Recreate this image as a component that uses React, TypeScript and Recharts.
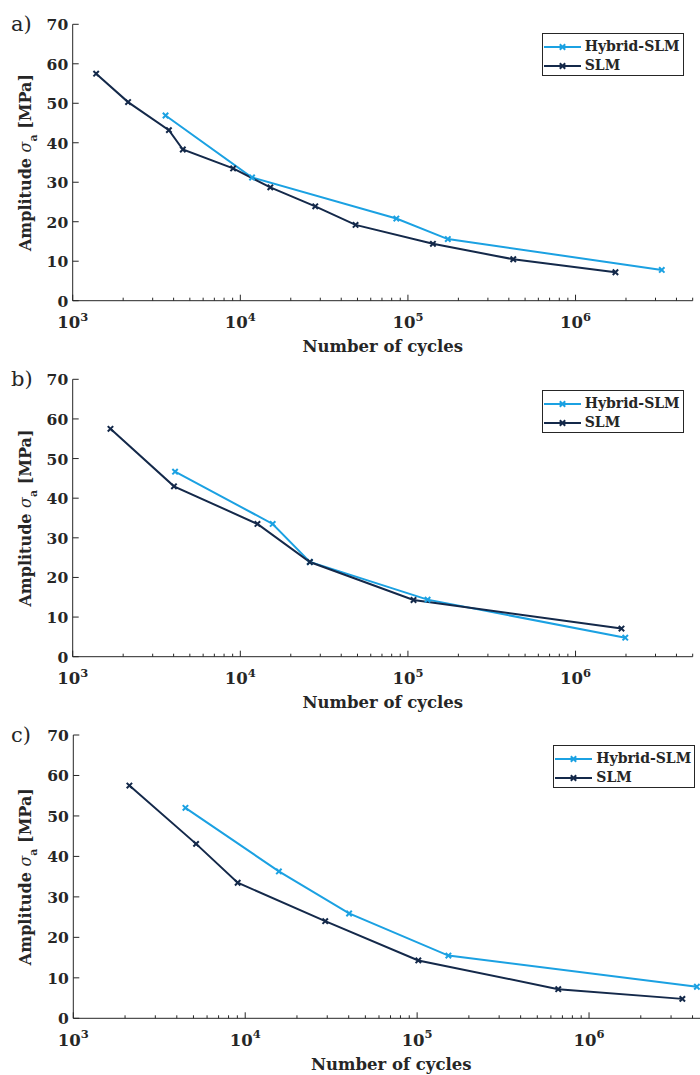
import { Legend, Line, LineChart, XAxis, YAxis } from "recharts";

const HYBRID = "#1ba1e2";
const SLM = "#14294a";
const AXIS = "#262626";
const FONT = "'DejaVu Serif', serif";

// panel a
const hybridA_N = [3580, 11750, 85300, 173000, 3270000];
const hybridA_S = [46.9, 31.2, 20.8, 15.6, 7.8];
const slmA_N = [1380, 2140, 3750, 4540, 9060, 15100, 28000, 48700, 141000, 425000, 1730000];
const slmA_S = [57.5, 50.3, 43.2, 38.3, 33.5, 28.7, 23.9, 19.2, 14.4, 10.5, 7.2];

// panel b
const hybridB_N = [4080, 15600, 26000, 131000, 1980000];
const hybridB_S = [46.7, 33.5, 23.9, 14.4, 4.8];
const slmB_N = [1680, 4020, 12650, 26000, 108000, 1880000];
const slmB_S = [57.5, 43.0, 33.5, 23.9, 14.3, 7.1];

// panel c
const hybridC_N = [4490, 15700, 40200, 152000, 4240000];
const hybridC_S = [52.0, 36.3, 25.9, 15.5, 7.8];
const slmC_N = [2120, 5180, 9040, 29200, 101600, 662000, 3490000];
const slmC_S = [57.5, 43.1, 33.5, 24.0, 14.3, 7.2, 4.8];

const X_DOMAIN = [1000, 5000000];
const DECADES = [1000, 10000, 100000, 1000000];
const Y_TICKS = [0, 10, 20, 30, 40, 50, 60, 70];

const X_TICKS = DECADES.flatMap((d) => [1, 2, 3, 4, 5, 6, 7, 8, 9].map((m) => d * m)).filter(
  (v) => v <= X_DOMAIN[1]
);

const pts = (n: number[], s: number[]) => n.map((x, i) => ({ x, y: s[i] }));

const isDecade = (v: number) => {
  const e = Math.log10(v);
  return Math.abs(e - Math.round(e)) < 1e-6;
};

function BottomTick({ x, y, payload }: any) {
  const major = isDecade(payload.value);
  return (
    <g>
      <line x1={x} x2={x} y1={y} y2={y - (major ? 6 : 3)} stroke={AXIS} />
      {major && (
        <text x={x} y={y + 27.5} textAnchor="middle" fontFamily={FONT} fontWeight="bold" fontSize={16.5} fill={AXIS}>
          10
          <tspan dy={-7.5} fontSize={11.5}>
            {Math.round(Math.log10(payload.value))}
          </tspan>
        </text>
      )}
    </g>
  );
}

function TopTick({ x, y, payload }: any) {
  const major = isDecade(payload.value);
  return <line x1={x} x2={x} y1={y} y2={y + (major ? 6 : 3)} stroke={AXIS} />;
}

function LeftTick({ x, y, payload }: any) {
  return (
    <g>
      <line x1={x} x2={x + 6} y1={y} y2={y} stroke={AXIS} />
      <text x={x - 4.5} y={y + 6} textAnchor="end" fontFamily={FONT} fontWeight="bold" fontSize={15.5} fill={AXIS}>
        {payload.value}
      </text>
    </g>
  );
}

function RightTick({ x, y }: any) {
  return <line x1={x} x2={x - 6} y1={y} y2={y} stroke={AXIS} />;
}

function CrossDot({ cx, cy, stroke }: any) {
  if (cx == null || cy == null) return null;
  const r = 2.7;
  return (
    <path
      d={`M${cx - r},${cy - r}L${cx + r},${cy + r}M${cx - r},${cy + r}L${cx + r},${cy - r}`}
      stroke={stroke}
      strokeWidth={2}
      fill="none"
    />
  );
}

function YTitle({ viewBox }: any) {
  const cx = 31;
  const cy = viewBox.y + viewBox.height / 2;
  return (
    <text
      x={cx}
      y={cy}
      transform={`rotate(-90, ${cx}, ${cy})`}
      textAnchor="middle"
      fontFamily={FONT}
      fontWeight="bold"
      fontSize={16}
      fill={AXIS}
    >
      Amplitude{" "}
      <tspan fontStyle="italic" fontWeight="normal">
        σ
      </tspan>
      <tspan dy={6} fontSize={11}>
        a
      </tspan>
      <tspan dy={-6}>{"  "}[MPa]</tspan>
    </text>
  );
}

function XTitle({ viewBox }: any) {
  return (
    <text
      x={viewBox.x + viewBox.width / 2}
      y={viewBox.y + 51.5}
      textAnchor="middle"
      fontFamily={FONT}
      fontWeight="bold"
      fontSize={16.5}
      fill={AXIS}
    >
      Number of cycles
    </text>
  );
}

function LegendBox({ payload }: any) {
  return (
    <div
      style={{
        width: "100%",
        height: "100%",
        boxSizing: "border-box",
        border: `1px solid ${AXIS}`,
        background: "#fff",
        padding: "3px 0 0 1px",
      }}
    >
      {(payload || []).map((e: any) => (
        <div key={e.value} style={{ display: "flex", alignItems: "center", height: 19 }}>
          <svg width={38} height={10} style={{ flex: "none" }}>
            <line x1={0} x2={37} y1={5} y2={5} stroke={e.color} strokeWidth={2} />
            <CrossDot cx={18.5} cy={5} stroke={e.color} />
          </svg>
          <span
            style={{
              marginLeft: 3,
              fontFamily: FONT,
              fontWeight: "bold",
              fontSize: 14,
              color: AXIS,
              lineHeight: "19px",
            }}
          >
            {e.value}
          </span>
        </div>
      ))}
    </div>
  );
}

function Panel({
  label,
  top,
  width,
  height,
  marginTop,
  marginRight,
  plotLeft,
  axisHeight,
  hybrid,
  slm,
  legendPos,
}: {
  label: string;
  top: number;
  width: number;
  height: number;
  marginTop: number;
  marginRight: number;
  plotLeft: number;
  axisHeight: number;
  hybrid: { x: number; y: number }[];
  slm: { x: number; y: number }[];
  legendPos: { left: number; top: number };
}) {
  return (
    <div style={{ position: "absolute", left: 0, top, width, height }}>
      <LineChart width={width} height={height} margin={{ top: marginTop, right: marginRight, bottom: 0, left: 0 }}>
        <XAxis
          dataKey="x"
          type="number"
          scale="log"
          domain={X_DOMAIN}
          allowDataOverflow
          ticks={X_TICKS}
          interval={0}
          tick={<BottomTick />}
          tickLine={false}
          tickSize={0}
          tickMargin={0}
          height={axisHeight}
          axisLine={{ stroke: AXIS }}
          label={<XTitle />}
        />
        <XAxis
          xAxisId="top"
          orientation="top"
          dataKey="x"
          type="number"
          scale="log"
          domain={X_DOMAIN}
          allowDataOverflow
          ticks={X_TICKS}
          interval={0}
          tick={<TopTick />}
          tickLine={false}
          tickSize={0}
          tickMargin={0}
          height={0}
          axisLine={{ stroke: AXIS }}
        />
        <YAxis
          type="number"
          domain={[0, 70]}
          ticks={Y_TICKS}
          interval={0}
          allowDataOverflow
          width={plotLeft}
          tick={<LeftTick />}
          tickLine={false}
          tickSize={0}
          tickMargin={0}
          axisLine={{ stroke: AXIS }}
          label={<YTitle />}
        />
        <YAxis
          yAxisId="right"
          orientation="right"
          type="number"
          domain={[0, 70]}
          ticks={Y_TICKS}
          interval={0}
          allowDataOverflow
          width={0}
          tick={<RightTick />}
          tickLine={false}
          tickSize={0}
          tickMargin={0}
          axisLine={{ stroke: AXIS }}
        />
        <Legend
          layout="vertical"
          align="center"
          verticalAlign="middle"
          content={<LegendBox />}
          wrapperStyle={{ left: legendPos.left, top: legendPos.top, width: 142, height: 43 }}
        />
        <Line
          data={hybrid}
          dataKey="y"
          name="Hybrid-SLM"
          stroke={HYBRID}
          strokeWidth={2}
          dot={<CrossDot />}
          isAnimationActive={false}
        />
        <Line
          data={slm}
          dataKey="y"
          name="SLM"
          stroke={SLM}
          strokeWidth={2}
          dot={<CrossDot />}
          isAnimationActive={false}
        />
      </LineChart>
      <div
        style={{
          position: "absolute",
          left: 11,
          top: marginTop - 12,
          fontFamily: FONT,
          fontSize: 21,
          lineHeight: "24px",
          color: AXIS,
        }}
      >
        {label}
      </div>
    </div>
  );
}

export default function App() {
  return (
    <div
      style={{
        position: "absolute",
        left: 0,
        top: 0,
        width: 700,
        height: 1075,
        overflow: "hidden",
        background: "#fff",
      }}
    >
      <Panel
        label="a)"
        top={0}
        width={700}
        height={360}
        marginTop={24.3}
        marginRight={7.3}
        plotLeft={72.7}
        axisHeight={59.3}
        hybrid={pts(hybridA_N, hybridA_S)}
        slm={pts(slmA_N, slmA_S)}
        legendPos={{ left: 541.7, top: 33.3 }}
      />
      <Panel
        label="b)"
        top={355}
        width={700}
        height={360}
        marginTop={24.3}
        marginRight={7.3}
        plotLeft={72.7}
        axisHeight={58.3}
        hybrid={pts(hybridB_N, hybridB_S)}
        slm={pts(slmB_N, slmB_S)}
        legendPos={{ left: 541.7, top: 35 }}
      />
      <Panel
        label="c)"
        top={710}
        width={720}
        height={365}
        marginTop={25}
        marginRight={10.8}
        plotLeft={73.3}
        axisHeight={56.7}
        hybrid={pts(hybridC_N, hybridC_S)}
        slm={pts(slmC_N, slmC_S)}
        legendPos={{ left: 553.3, top: 35 }}
      />
    </div>
  );
}
